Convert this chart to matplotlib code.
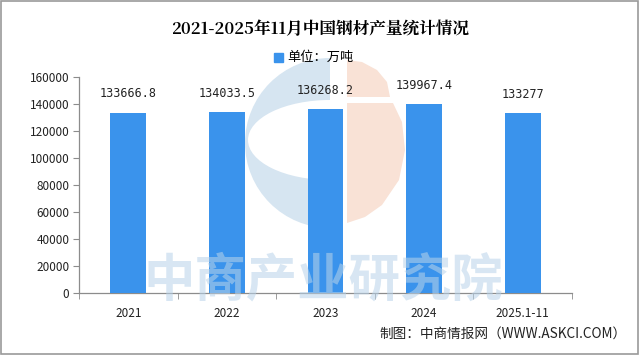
import matplotlib
matplotlib.use("Agg")
import matplotlib.pyplot as plt
from matplotlib.patches import Wedge, Rectangle, Ellipse, Polygon

plt.rcParams["font.family"] = ["Noto Sans CJK SC", "DejaVu Sans"]

# data
categories = ["2021", "2022", "2023", "2024", "2025.1-11"]
output_wt = [133666.8, 134033.5, 136268.2, 139967.4, 133277]
value_labels = ["133666.8", "134033.5", "136268.2", "139967.4", "133277"]
yticks = [0, 20000, 40000, 60000, 80000, 100000, 120000, 140000, 160000]

title = "2021-2025年11月中国钢材产量统计情况"
legend_label = "单位：万吨"
source = "制图：中商情报网（WWW.ASKCI.COM）"
watermark = "中商产业研究院"

bar_color = "#3a93ec"
axis_color = "#8c8c8c"

fig = plt.figure(figsize=(6.4, 3.56), dpi=100)
fig.patch.set_facecolor("white")

# background layer in pixel coords for the faint logo watermark
bg = fig.add_axes([0, 0, 1, 1])
bg.set_xlim(0, 640)
bg.set_ylim(356, 0)
bg.axis("off")
bg.set_zorder(0)
logo_blue = "#d6e5f1"
logo_orange = "#f9e2d6"
bg.add_patch(Wedge((330, 143), 85, 90, 270, color=logo_blue, lw=0))
bg.add_patch(Ellipse((330, 140), 164, 80, color="white", lw=0))
bg.add_patch(Polygon([(347, 60), (362, 62), (377, 70), (387, 82), (390, 97), (347, 97)],
                     closed=True, color=logo_orange, lw=0))
bg.add_patch(Polygon([(347, 103), (393, 103), (402, 122), (405, 150), (399, 180),
                      (382, 205), (365, 217), (347, 223)],
                     closed=True, color=logo_orange, lw=0))
# outer border of the picture
bg.add_patch(Rectangle((1, 1), 637, 353, fill=False, ec="#9a9a9a", lw=1.2))

ax = fig.add_axes([79 / 640, 1 - 293 / 356, (572 - 79) / 640, (293 - 77) / 356])
ax.set_zorder(1)
ax.patch.set_alpha(0)

x = range(len(categories))
bars = ax.bar(x, output_wt, width=0.365, color=bar_color, zorder=3)

for xi, v, lab in zip(x, output_wt, value_labels):
    ax.text(xi, v + 9000, lab, ha="center", va="bottom", fontsize=8.5,
            family=["DejaVu Sans Mono"], color="#222222")

ax.set_xlim(-0.5, len(categories) - 0.5)
ax.set_ylim(0, 160000)
ax.set_yticks(yticks)
ax.set_yticklabels([str(t) for t in yticks], fontsize=8.5, color="#222222")
ax.set_xticks(list(x))
ax.set_xticklabels(categories, fontsize=8.5, color="#222222")
ax.tick_params(axis="x", which="major", length=0, pad=10)
ax.set_xticks([i - 0.5 for i in range(len(categories) + 1)], minor=True)
ax.tick_params(axis="x", which="minor", length=4, color=axis_color, direction="out")
ax.tick_params(axis="y", length=4, color=axis_color, direction="out", pad=3)

for side in ["top", "right"]:
    ax.spines[side].set_visible(False)
for side in ["left", "bottom"]:
    ax.spines[side].set_color(axis_color)
    ax.spines[side].set_linewidth(0.9)

# big faint watermark text over the lower part of the bars
fig.text(0.505, 1 - 280 / 356, watermark, ha="center", va="center",
         fontsize=37, fontweight="bold", color="#b9d3ea", alpha=0.55, zorder=5)

fig.text(0.5, 1 - 30 / 356, title, ha="center", va="center",
         fontsize=12, fontweight="bold", family=["Noto Serif CJK SC", "Noto Sans CJK SC", "DejaVu Serif"])
fig.patches.append(Rectangle((274 / 640, 1 - 62 / 356), 9 / 640, 9 / 356,
                             transform=fig.transFigure, figure=fig, color=bar_color))
fig.text(287 / 640, 1 - 57 / 356, legend_label, ha="left", va="center", fontsize=9.5)

fig.text(627 / 640, 1 - 334 / 356, source, ha="right", va="center", fontsize=9.8,
         color="#222222")

fig.savefig("out.png", dpi=100)
